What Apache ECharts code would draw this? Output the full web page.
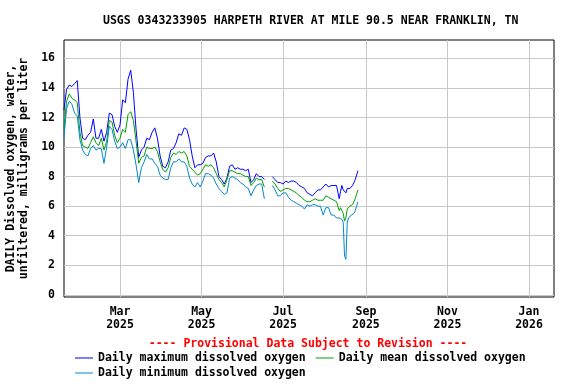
<!DOCTYPE html>
<html>
<head>
<meta charset="utf-8">
<script src="https://cdn.jsdelivr.net/npm/echarts@6/dist/echarts.min.js"></script>
<style>
html,body{margin:0;padding:0;background:#fff;}
#chart{width:576px;height:384px;}
</style>
</head>
<body>
<div id="chart"></div>
<script>
const dates = [
 '2025-01-18','2025-01-20','2025-01-22','2025-01-24','2025-01-26','2025-01-28','2025-01-30','2025-02-01','2025-02-03','2025-02-05',
 '2025-02-07','2025-02-09','2025-02-11','2025-02-13','2025-02-15','2025-02-17','2025-02-19','2025-02-21','2025-02-23','2025-02-25',
 '2025-02-27','2025-03-01','2025-03-03','2025-03-05','2025-03-07','2025-03-09','2025-03-11','2025-03-13','2025-03-15','2025-03-17',
 '2025-03-19','2025-03-21','2025-03-23','2025-03-25','2025-03-27','2025-03-29','2025-03-31','2025-04-02','2025-04-04','2025-04-06',
 '2025-04-08','2025-04-10','2025-04-12','2025-04-14','2025-04-16','2025-04-18','2025-04-20','2025-04-22','2025-04-24','2025-04-26',
 '2025-04-28','2025-04-30','2025-05-02','2025-05-04','2025-05-06','2025-05-08','2025-05-10','2025-05-12','2025-05-14','2025-05-16',
 '2025-05-18','2025-05-20','2025-05-22','2025-05-24','2025-05-26','2025-05-28','2025-05-30','2025-06-01','2025-06-03','2025-06-05',
 '2025-06-07','2025-06-09','2025-06-11','2025-06-13','2025-06-15','2025-06-17','2025-06-19','2025-06-21','2025-06-23','2025-06-25',
 '2025-06-27','2025-06-29','2025-07-01','2025-07-03','2025-07-05','2025-07-07','2025-07-09','2025-07-11','2025-07-13','2025-07-15',
 '2025-07-17','2025-07-19','2025-07-21','2025-07-23','2025-07-25','2025-07-27','2025-07-29','2025-07-31','2025-08-02','2025-08-04',
 '2025-08-06','2025-08-08','2025-08-10','2025-08-12','2025-08-13','2025-08-14','2025-08-15','2025-08-16','2025-08-17','2025-08-18',
 '2025-08-19','2025-08-20','2025-08-21','2025-08-22','2025-08-23','2025-08-24','2025-08-25','2025-08-26'
];
const maxDO = [
 12.5,13.9,14.2,14.1,14.3,14.5,12.0,10.6,10.5,10.8,
 11.0,11.9,10.6,10.6,11.2,10.4,11.0,12.3,12.2,11.4,
 11.0,11.5,13.2,13.0,14.6,15.2,13.7,11.2,9.3,9.8,
 10.0,10.6,10.5,11.0,11.3,10.6,9.4,8.7,8.6,9.0,
 9.8,9.9,10.3,10.9,10.8,11.3,11.2,10.5,9.4,8.6,
 8.8,8.8,8.9,9.3,9.4,9.4,9.6,9.0,8.0,7.8,
 7.5,7.9,8.7,8.8,8.5,8.6,8.5,8.5,8.4,8.5,
 7.6,7.8,8.2,8.0,8.0,7.8,null,null,8.0,7.8,
 7.6,7.6,7.5,7.7,7.6,7.7,7.7,7.6,7.4,7.3,
 7.2,6.9,6.8,6.7,6.9,7.1,7.1,7.3,7.5,7.3,
 7.4,7.4,7.4,6.5,7.0,7.4,7.1,7.0,6.9,7.2,
 7.2,7.2,7.3,7.4,7.6,7.8,8.1,8.4
];
const meanDO = [
 11.2,13.1,13.6,13.3,13.2,13.0,11.0,10.1,10.0,9.9,
 10.3,10.7,10.3,10.1,10.6,9.8,10.4,11.8,11.7,10.8,
 10.3,10.6,11.2,11.0,12.2,12.4,11.8,10.4,8.9,9.3,
 9.4,10.0,9.9,9.9,10.0,9.7,9.0,8.5,8.3,8.6,
 9.3,9.6,9.5,9.7,9.6,9.7,9.4,8.7,8.5,8.3,
 8.1,8.2,8.5,8.8,8.7,8.8,8.6,8.2,7.8,7.6,
 7.3,7.8,8.4,8.4,8.3,8.2,8.2,8.1,8.0,8.0,
 7.4,7.6,7.9,7.8,7.8,7.3,null,null,7.7,7.5,
 7.2,7.0,7.1,7.2,7.2,7.1,7.0,6.9,6.7,6.6,
 6.4,6.3,6.3,6.4,6.5,6.4,6.4,6.4,6.7,6.6,
 6.5,6.4,6.3,5.7,5.9,5.9,5.5,5.0,5.2,5.8,
 5.9,6.0,6.1,6.1,6.3,6.5,6.8,7.1
];
const minDO = [
 10.6,12.6,13.1,12.9,12.3,12.1,10.5,9.8,9.5,9.4,
 9.9,10.1,9.8,9.9,9.9,8.9,10.0,11.4,11.2,10.4,
 9.9,10.0,10.3,9.9,10.5,10.5,9.8,8.8,7.6,8.6,
 9.0,9.5,9.2,9.2,8.9,8.7,8.1,7.9,7.8,7.8,
 8.6,9.0,9.0,9.2,9.0,9.0,8.7,7.9,7.5,7.3,
 7.6,7.3,7.7,8.2,8.2,8.1,7.9,7.5,7.2,7.0,
 6.8,6.9,7.9,8.0,7.9,7.8,7.6,7.5,7.3,7.2,
 6.7,7.1,7.4,7.5,7.5,6.5,null,null,7.4,7.1,
 6.7,6.7,6.9,6.9,6.6,6.4,6.3,6.2,6.1,6.0,
 5.8,6.1,6.0,6.1,6.1,6.0,6.0,5.4,5.9,5.9,
 5.4,5.4,5.2,5.2,5.3,5.1,4.9,2.6,2.4,4.9,
 5.2,5.3,5.4,5.4,5.5,5.7,6.0,6.3
];
const xTickDates = ['2025-03-01','2025-05-01','2025-07-01','2025-09-01','2025-11-01','2026-01-01'];
const xTickLabels = ['Mar\n2025','May\n2025','Jul\n2025','Sep\n2025','Nov\n2025','Jan\n2026'];
const yTicks = [0,2,4,6,8,10,12,14,16];
const seriesNames = ['Daily maximum dissolved oxygen','Daily mean dissolved oxygen','Daily minimum dissolved oxygen'];
const seriesColors = ['#0000ff','#00a000','#0088cc'];

const FONT = '"DejaVu Sans Mono", monospace';
const FS = 11.5;
function toTime(s){ const p = s.split('-').map(Number); return Date.UTC(p[0], p[1]-1, p[2]); }
const tickTimes = xTickDates.map(toTime);
const xMin = Date.UTC(2025,0,18,2);
const xMax = Date.UTC(2026,0,19,17);

function pairs(vals){ return dates.map((d,i) => [toTime(d), vals[i]]); }

const legendText = {fontFamily:FONT, fontWeight:'bold', fontSize:FS, color:'#000'};

const chart = echarts.init(document.getElementById('chart'), null, {renderer:'canvas'});
chart.setOption({
  animation:false,
  backgroundColor:'#fff',
  title:{
    text:'USGS 0343233905 HARPETH RIVER AT MILE 90.5 NEAR FRANKLIN, TN',
    left:98, top:10,
    textStyle:{fontFamily:FONT, fontWeight:'bold', fontSize:FS, color:'#000'}
  },
  grid:{left:64, right:22, top:40, bottom:87, show:true, borderColor:'#000', borderWidth:1,
        backgroundColor:'transparent', containLabel:false, outerBoundsMode:'none'},
  xAxis:{
    type:'value',
    min: xMin, max: xMax,
    axisLine:{show:false},
    axisTick:{show:false, customValues: tickTimes},
    splitLine:{show:true, lineStyle:{color:'#c8c8c8', width:1}},
    axisLabel:{
      customValues: tickTimes,
      formatter: function(v){
        const i = tickTimes.indexOf(+v);
        return i >= 0 ? xTickLabels[i] : '';
      },
      fontFamily:FONT, fontWeight:'bold', fontSize:FS, color:'#000', lineHeight:13, margin:9
    }
  },
  yAxis:{
    type:'value',
    min:-0.15, max:17.25,
    name:'DAILY Dissolved oxygen, water,\nunfiltered, milligrams per liter',
    nameLocation:'middle', nameRotate:90, nameGap:30,
    nameTextStyle:{fontFamily:FONT, fontWeight:'bold', fontSize:FS, color:'#000', lineHeight:13},
    axisLine:{show:false},
    axisTick:{show:false, customValues: yTicks},
    splitLine:{show:true, lineStyle:{color:'#c8c8c8', width:1}},
    axisLabel:{customValues: yTicks, fontFamily:FONT, fontWeight:'bold', fontSize:FS, color:'#000', margin:9}
  },
  legend:[
    {data:[seriesNames[0], seriesNames[1]], left:75, top:352, icon:'rect', itemWidth:18, itemHeight:1, itemGap:10, padding:0,
     textStyle:legendText},
    {data:[seriesNames[2]], left:75, top:367, icon:'rect', itemWidth:18, itemHeight:1, itemGap:10, padding:0,
     textStyle:legendText}
  ],
  graphic:[{
    type:'text', x:308, y:344,
    style:{text:'---- Provisional Data Subject to Revision ----', fill:'#ff0000',
      font:'bold '+FS+'px '+FONT, textAlign:'center', textVerticalAlign:'middle'}
  }],
  series: [maxDO, meanDO, minDO].map((vals, i) => ({
    name: seriesNames[i], type:'line', data: pairs(vals),
    symbol:'none', showSymbol:false, connectNulls:false,
    lineStyle:{width:1, color: seriesColors[i]}, itemStyle:{color: seriesColors[i]},
    emphasis:{disabled:true}
  }))
});
</script>
</body>
</html>
